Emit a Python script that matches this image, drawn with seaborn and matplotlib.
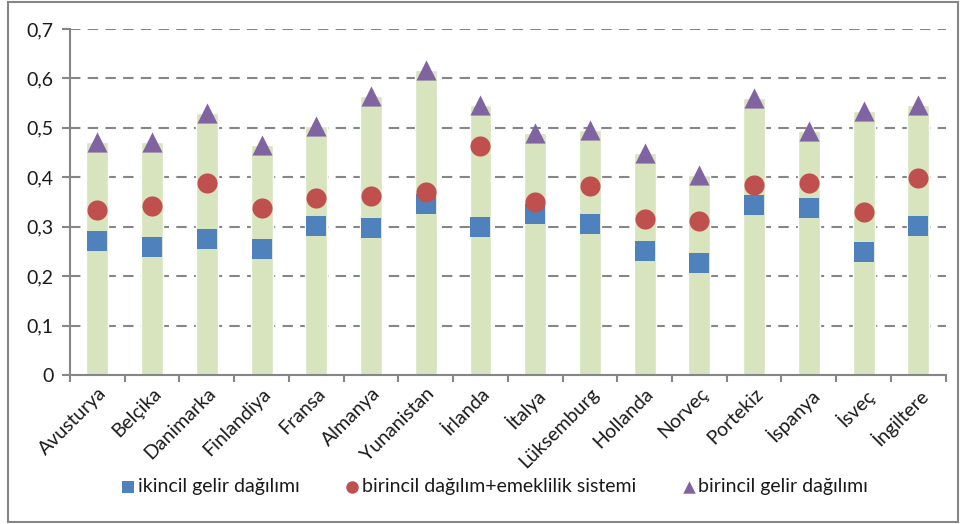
import numpy as np
import pandas as pd
import matplotlib
matplotlib.use("Agg")
import matplotlib.pyplot as plt
import seaborn as sns
from matplotlib.patches import Rectangle
from matplotlib.ticker import FixedLocator, FuncFormatter

# ==================================================
# DATA
# ==================================================
countries = ["Avusturya", "Belçika", "Danimarka", "Finlandiya", "Fransa",
             "Almanya", "Yunanistan", "İrlanda", "İtalya", "Lüksemburg",
             "Hollanda", "Norveç", "Portekiz", "İspanya", "İsveç", "İngiltere"]

ikincil = [0.271, 0.259, 0.276, 0.254, 0.302, 0.298, 0.346, 0.300, 0.326,
           0.305, 0.251, 0.227, 0.343, 0.337, 0.249, 0.302]
emeklilik = [0.334, 0.341, 0.389, 0.337, 0.359, 0.362, 0.371, 0.464, 0.349,
             0.382, 0.315, 0.312, 0.385, 0.389, 0.330, 0.399]
birincil = [0.471, 0.472, 0.530, 0.466, 0.504, 0.565, 0.617, 0.546, 0.489,
            0.496, 0.449, 0.405, 0.560, 0.494, 0.535, 0.546]

labels = ["ikincil gelir dağılımı", "birincil dağılım+emeklilik sistemi",
          "birincil gelir dağılımı"]

yticks = [0, 0.1, 0.2, 0.3, 0.4, 0.5, 0.6, 0.7]

# ==================================================
# STYLE
# ==================================================
sns.set_style("white")
plt.rcParams['font.family'] = ['Lato', 'DejaVu Sans']
GRID = "#868686"
TXT = "#1a1a1a"

df = pd.DataFrame({"country": countries, "ikincil": ikincil,
                   "emeklilik": emeklilik, "birincil": birincil})
pos = np.arange(len(countries))

fig = plt.figure(figsize=(9.62, 5.24), dpi=100)
ax = fig.add_axes([0.0728, 0.2844, 0.9102, 0.6603])

# green background bars (0 -> birincil)
sns.barplot(data=df, x="country", y="birincil", color="#D7E4BD",
            saturation=1, width=0.40, ax=ax, zorder=2)

# markers
sns.scatterplot(x=pos, y=df["ikincil"], marker="s", s=200, color="#4F81BD",
                linewidth=0, ax=ax, zorder=3, label=labels[0])
sns.scatterplot(x=pos, y=df["emeklilik"], marker="o", s=210, color="#C0504D",
                linewidth=0, ax=ax, zorder=4, label=labels[1])
sns.scatterplot(x=pos, y=df["birincil"], marker="^", s=210, color="#8064A2",
                linewidth=0, ax=ax, zorder=5, label=labels[2])

# axes
ax.set_xlim(-0.5, len(countries) - 0.5)
ax.set_ylim(0, 0.7)
ax.set_xlabel("")
ax.set_ylabel("")
ax.yaxis.set_major_locator(FixedLocator(yticks))
ax.yaxis.set_major_formatter(FuncFormatter(
    lambda v, p: "0" if v == 0 else f"{v:.1f}".replace(".", ",")))
ax.set_xticks(pos)
ax.set_xticklabels(countries, rotation=45, ha="right", rotation_mode="anchor",
                   fontsize=14, color=TXT)
ax.xaxis.set_minor_locator(FixedLocator(np.arange(-0.5, len(countries), 1.0)))
ax.tick_params(axis="x", which="major", length=0, pad=7)
ax.tick_params(axis="x", which="minor", length=5, width=1.5, color=GRID,
               direction="out", bottom=True)
ax.tick_params(axis="y", which="major", length=6, width=1.5, color=GRID,
               direction="out", left=True, labelsize=14, labelcolor=TXT,
               pad=6)

for y in yticks[1:]:
    ax.axhline(y, color=GRID, lw=1.5, ls=(0, (5, 3.5)), zorder=1)

for s in ["top", "right"]:
    ax.spines[s].set_visible(False)
ax.spines["left"].set_color(GRID)
ax.spines["left"].set_linewidth(1.5)
ax.spines["bottom"].set_color(GRID)
ax.spines["bottom"].set_linewidth(1.5)

# legend
leg = ax.legend(loc="center", bbox_to_anchor=(0.48, -0.322), ncol=3,
                frameon=False, fontsize=14, markerscale=0.62,
                handletextpad=-0.3, handlelength=1.6, columnspacing=1.9,
                borderaxespad=0)
for t in leg.get_texts():
    t.set_color(TXT)

# outer chart border
fig.patches.append(Rectangle((0.008, 0.004), 0.988, 0.992,
                             transform=fig.transFigure, fill=False,
                             edgecolor=GRID, linewidth=1.5))

fig.savefig("out.png", dpi=100)
